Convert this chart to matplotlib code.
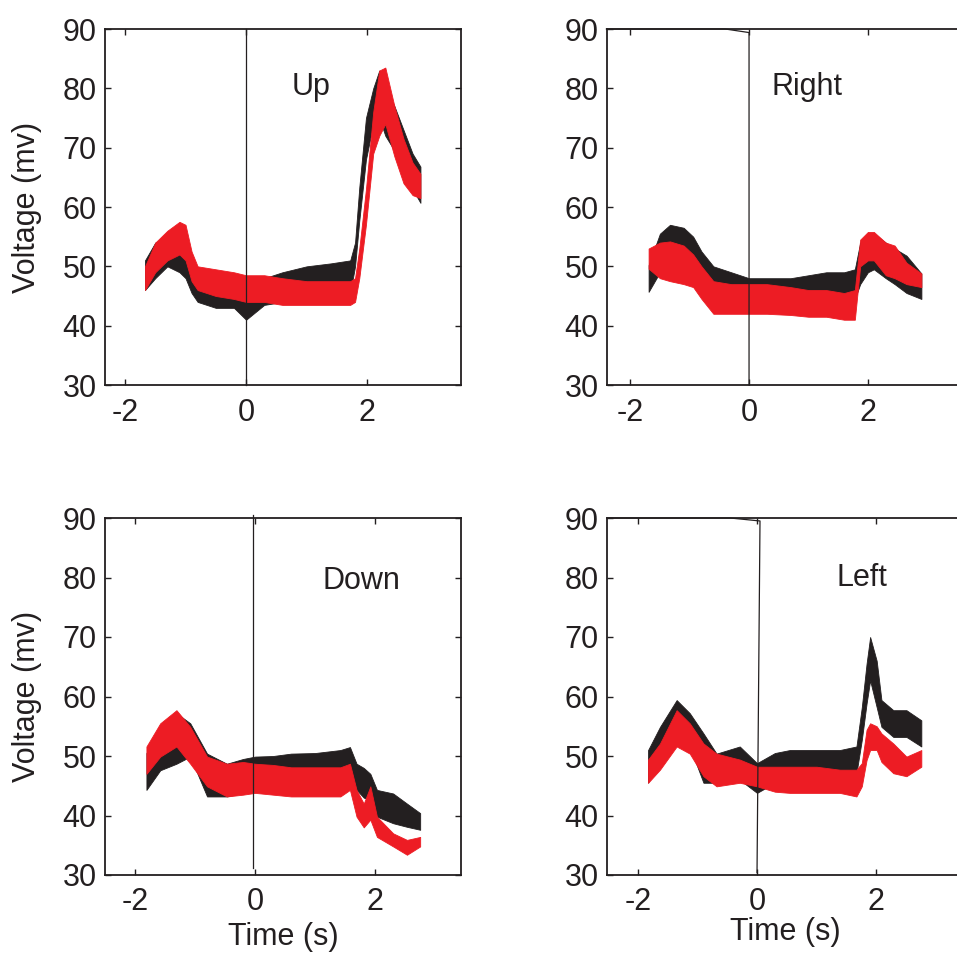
import matplotlib
matplotlib.use("Agg")
import matplotlib.pyplot as plt

plt.rcParams['font.family'] = ['Liberation Sans', 'DejaVu Sans']

# ---- traces: time (s) with lower / upper envelope of the voltage (mv) ----
# Up
UP_T = [-1.67, -1.5, -1.3, -1.1, -1.0, -0.9, -0.8, -0.5, -0.2, 0.0, 0.3, 0.6,
        1.0, 1.4, 1.72, 1.8, 1.87, 1.98, 2.1, 2.2, 2.3, 2.45, 2.6, 2.75, 2.88]
UP_BLACK_LO = [46, 48, 50, 49, 48, 45.5, 44, 43, 43, 41, 43.5, 44,
               44.5, 45, 45.5, 50, 57.7, 68, 74, 75, 72, 69.5, 67, 63, 60.7]
UP_BLACK_HI = [51, 54, 55, 55, 54.5, 51, 49, 48.5, 48, 47, 48, 49,
               50, 50.5, 51, 54, 63.3, 75, 80, 83, 80, 77, 73, 69, 66.8]
UP_RED_LO = [46, 49, 51, 52, 51, 47.5, 46, 45, 44.5, 44, 44, 43.5,
             43.5, 43.5, 43.5, 44, 48, 57, 69, 72, 74, 68.5, 64, 62, 61.5]
UP_RED_HI = [50, 54, 56, 57.5, 57, 52.5, 50, 49.5, 49, 48.5, 48.5, 48,
             47.5, 47.5, 47.5, 48, 53, 63, 76, 83, 83.5, 77, 71.5, 67.5, 65.6]

# Right
RIGHT_T = [-1.69, -1.5, -1.33, -1.1, -0.94, -0.8, -0.6, -0.3, 0.0, 0.3, 0.7,
           1.0, 1.3, 1.6, 1.78, 1.87, 2.0, 2.1, 2.3, 2.45, 2.65, 2.9]
RIGHT_BLACK_LO = [45.7, 49, 51, 51, 50, 47.5, 45, 43, 42.5, 43, 43.5,
                  44.5, 44.5, 44, 44.5, 47, 49, 49.5, 48, 47, 45.5, 44.5]
RIGHT_BLACK_HI = [50.2, 55.5, 57, 56.5, 55, 52.5, 50, 49, 48, 48, 48,
                  48.5, 49, 49, 49.5, 54, 55.5, 55.5, 54, 53, 51.8, 48.8]
RIGHT_RED_LO = [49.6, 48, 47.5, 47, 46.5, 44.5, 42, 42, 42, 42, 41.8,
                41.5, 41.5, 41, 41, 50, 51, 51, 48.5, 48, 47, 46.5]
RIGHT_RED_HI = [53, 54, 54.2, 53.5, 52, 50, 47.5, 47, 47, 47, 46.5,
                46, 46, 45.5, 46, 54.5, 55.8, 55.8, 54, 53.5, 50.6, 48.8]

# Down
DOWN_T = [-1.81, -1.58, -1.31, -1.08, -0.8, -0.47, -0.2, 0.0, 0.3, 0.6, 1.0,
          1.42, 1.58, 1.69, 1.81, 1.92, 2.03, 2.3, 2.53, 2.75]
DOWN_BLACK_LO = [44.3, 47.6, 48.7, 49.9, 43.2, 43.2, 43.8, 44.3, 44.3, 44.3,
                 44.5, 45.4, 46.5, 44.3, 43, 42.6, 39.8, 38.7, 38.1, 37.6]
DOWN_BLACK_HI = [50.5, 54.4, 57.2, 55.5, 50.4, 48.7, 49.5, 49.9, 50, 50.4,
                 50.5, 51, 51.5, 48.7, 48, 47, 44.3, 43.7, 42, 40.4]
DOWN_RED_LO = [47, 49.9, 51.6, 48.7, 44.9, 43.2, 43.5, 43.8, 43.5, 43.2,
               43.2, 43.2, 44.3, 39.8, 38, 39.3, 36.4, 34.8, 33.4, 34.8]
DOWN_RED_HI = [51.6, 55.5, 57.7, 54.9, 49.9, 48.7, 49, 48.7, 48.5, 48.1,
               48.1, 48.1, 48.7, 44.3, 42, 44.9, 39.8, 37, 35.9, 36.4]

# Left
LEFT_T = [-1.83, -1.63, -1.35, -1.13, -0.9, -0.68, -0.29, 0.0, 0.3, 0.55, 1.0,
          1.39, 1.67, 1.76, 1.84, 1.9, 2.01, 2.09, 2.29, 2.51, 2.76]
LEFT_BLACK_LO = [45.5, 50.4, 53.8, 51.6, 45.5, 45.5, 46, 43.8, 45.5, 46.6,
                 46.6, 46.6, 47.1, 52.7, 58.8, 62.7, 58.2, 54.9, 53.2, 53.2, 51.6]
LEFT_BLACK_HI = [51, 54.9, 59.4, 57.2, 53.8, 50.4, 51.6, 48.8, 50.5, 51,
                 51, 51, 51.6, 58.2, 65.5, 70, 66, 59.4, 57.7, 57.7, 56]
LEFT_RED_LO = [45.5, 47.7, 51.6, 50.4, 46.6, 44.9, 45.5, 44.9, 44, 43.8,
               43.8, 43.8, 43.2, 44.9, 49.3, 51, 51, 49, 47.1, 46.6, 48.2]
LEFT_RED_HI = [49.4, 52.1, 57.7, 55.5, 52.1, 50.4, 49.4, 48.2, 48.2, 48.2,
               48.2, 47.7, 47.7, 48.8, 54.4, 55.5, 55, 53.8, 52.1, 49.9, 51]

# stimulus / event marker traces (time, voltage)
UP_MARK_T, UP_MARK_V = [0.0, 0.0], [90, 30]
RIGHT_MARK_T, RIGHT_MARK_V = [-2.4, -0.4, 0.0, 0.0], [90, 90, 89.4, 30]
DOWN_MARK_T, DOWN_MARK_V = [-0.03, -0.03], [90.5, 31.2]
LEFT_MARK_T, LEFT_MARK_V = [-2.5, -0.45, 0.05, 0.0], [90, 90, 89.5, 30.4]

TITLES = ["Up", "Right", "Down", "Left"]
X_TICKS = [-2, 0, 2]
X_TICKLABELS = ["-2", "0", "2"]
Y_TICKS = [30, 40, 50, 60, 70, 80, 90]

BLACK = "#231f20"
RED = "#ed1c24"
FS = 22

W, H = 957, 959
fig = plt.figure(figsize=(W / 100, H / 100), dpi=100)


def add_axes(left, top, right, bottom):
    return fig.add_axes([left / W, 1 - bottom / H, (right - left) / W, (bottom - top) / H])


panels = [
    dict(box=(105, 29, 461, 385), xlim=(-2.33, 3.55), t=UP_T,
         blo=UP_BLACK_LO, bhi=UP_BLACK_HI, rlo=UP_RED_LO, rhi=UP_RED_HI,
         mark=(UP_MARK_T, UP_MARK_V), title_xy=(1.07, 80.3), xlab_y=937),
    dict(box=(607, 29, 963, 385), xlim=(-2.39, 3.6), t=RIGHT_T,
         blo=RIGHT_BLACK_LO, bhi=RIGHT_BLACK_HI, rlo=RIGHT_RED_LO, rhi=RIGHT_RED_HI,
         mark=(RIGHT_MARK_T, RIGHT_MARK_V), title_xy=(0.97, 80.3), xlab_y=932),
    dict(box=(105, 518, 461, 875), xlim=(-2.5, 3.43), t=DOWN_T,
         blo=DOWN_BLACK_LO, bhi=DOWN_BLACK_HI, rlo=DOWN_RED_LO, rhi=DOWN_RED_HI,
         mark=(DOWN_MARK_T, DOWN_MARK_V), title_xy=(1.77, 79.4), xlab_y=937),
    dict(box=(607, 518, 963, 875), xlim=(-2.52, 3.46), t=LEFT_T,
         blo=LEFT_BLACK_LO, bhi=LEFT_BLACK_HI, rlo=LEFT_RED_LO, rhi=LEFT_RED_HI,
         mark=(LEFT_MARK_T, LEFT_MARK_V), title_xy=(1.76, 79.9), xlab_y=932),
]

for i, p in enumerate(panels):
    ax = add_axes(*p["box"])
    ax.set_xlim(*p["xlim"])
    ax.set_ylim(30, 90)
    ax.fill_between(p["t"], p["blo"], p["bhi"], color=BLACK, lw=0.6, zorder=2)
    ax.fill_between(p["t"], p["rlo"], p["rhi"], color=RED, lw=0.6, zorder=3)
    mt, mv = p["mark"]
    ax.plot(mt, mv, color=BLACK, lw=0.9, zorder=4, clip_on=False)
    ax.text(*p["title_xy"], TITLES[i], fontsize=FS, ha="center", va="center", color=BLACK)
    ax.set_xticks(X_TICKS)
    ax.set_xticklabels(X_TICKLABELS)
    ax.set_yticks(Y_TICKS)
    ax.tick_params(direction="in", length=4, width=1, top=True, right=True,
                   labelsize=FS, colors=BLACK)
    ax.tick_params(axis="x", pad=9)
    ax.tick_params(axis="y", pad=6)
    for s in ax.spines.values():
        s.set_linewidth(1.3)
        s.set_color(BLACK)
    if i % 2 == 0:
        cy = (p["box"][1] + p["box"][3]) / 2
        fig.text(27 / W, 1 - cy / H, "Voltage (mv)", rotation=90, ha="center",
                 va="center", fontsize=FS, color=BLACK)
    if i >= 2:
        cx = (p["box"][0] + p["box"][2]) / 2
        fig.text(cx / W, 1 - p["xlab_y"] / H, "Time (s)", ha="center", va="center",
                 fontsize=FS, color=BLACK,
                 family=["Liberation Sans Narrow", "Liberation Sans", "DejaVu Sans"])

fig.savefig("out.png", dpi=100)
